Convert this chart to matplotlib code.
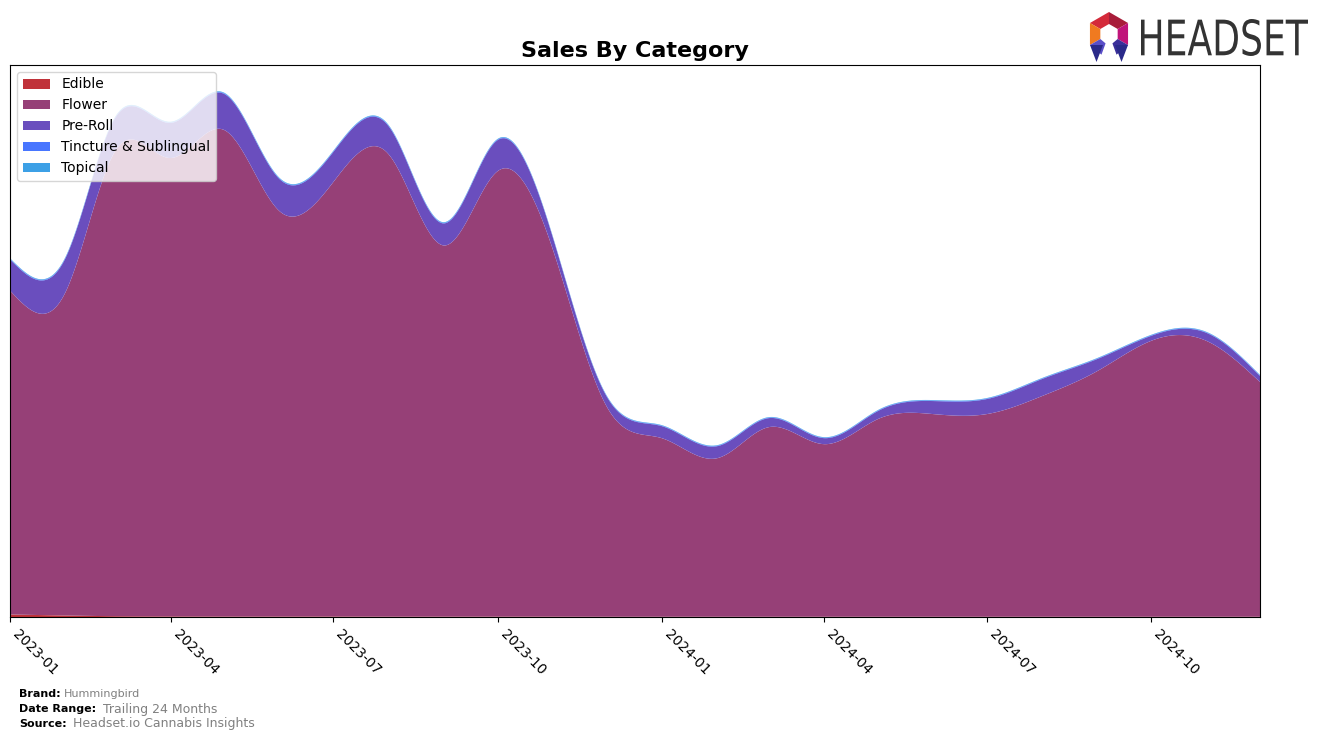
import numpy as np
import pandas as pd
import matplotlib
matplotlib.use("Agg")
import matplotlib.pyplot as plt
import matplotlib.dates as mdates
from matplotlib.patches import Polygon, PathPatch
from matplotlib.textpath import TextPath
from matplotlib.font_manager import FontProperties

# Monthly sales by category (arbitrary units)
months = pd.date_range("2023-01-01", "2024-12-01", freq="MS")
categories = ["Edible", "Flower", "Pre-Roll", "Tincture & Sublingual", "Topical"]
edible = [2.5, 1.5, 0.8, 0.6, 0.5, 0.5, 0.5, 0.4, 0.4, 0.4, 0.4, 0.3,
          0.3, 0.3, 0.3, 0.3, 0.3, 0.3, 0.3, 0.3, 0.3, 0.3, 0.3, 0.3]
flower = [323, 322, 464, 457, 485, 404, 433, 461, 370, 444, 366, 210,
          178, 158, 189, 172, 197, 202, 202, 220, 245, 275, 275, 234]
pre_roll = [31, 34, 33, 35, 36, 32, 30, 28, 22, 31, 12, 10,
            12, 12, 9, 6, 8, 13, 15, 17, 12, 5, 8, 6]
tincture = [0.6, 0.6, 0.6, 0.6, 0.6, 0.6, 0.6, 0.6, 0.6, 0.6, 0.5, 0.5,
            0.5, 0.5, 0.5, 0.5, 0.5, 0.5, 0.5, 0.5, 0.5, 0.5, 0.5, 0.5]
topical = [0.6, 0.6, 0.6, 0.6, 0.6, 0.6, 0.6, 0.6, 0.6, 0.6, 0.5, 0.5,
           0.5, 0.5, 0.5, 0.5, 0.5, 0.5, 0.5, 0.5, 0.5, 0.5, 0.5, 0.5]
colors = ["#c0323a", "#964077", "#6a4ebe", "#4876ff", "#3ca0e6"]


def natural_spline(x, y, xs):
    # plain natural cubic spline, just for the smooth look of the areas
    x = np.asarray(x, float)
    y = np.asarray(y, float)
    n = len(x)
    h = np.diff(x)
    A = np.zeros((n, n))
    b = np.zeros(n)
    A[0, 0] = A[-1, -1] = 1
    for i in range(1, n - 1):
        A[i, i - 1] = h[i - 1]
        A[i, i] = 2 * (h[i - 1] + h[i])
        A[i, i + 1] = h[i]
        b[i] = 3 * ((y[i + 1] - y[i]) / h[i] - (y[i] - y[i - 1]) / h[i - 1])
    c = np.linalg.solve(A, b)
    a = y[:-1]
    bb = (y[1:] - y[:-1]) / h - h * (2 * c[:-1] + c[1:]) / 3
    d = (c[1:] - c[:-1]) / (3 * h)
    idx = np.clip(np.searchsorted(x, xs) - 1, 0, n - 2)
    t = xs - x[idx]
    return a[idx] + bb[idx] * t + c[idx] * t ** 2 + d[idx] * t ** 3


days = (months - months[0]).days.values
xs = np.arange(0, days[-1] + 1)
dates = months[0] + pd.to_timedelta(xs, unit="D")
series = [edible, flower, pre_roll, tincture, topical]
smooth = [np.clip(natural_spline(days, s, xs), 0, None) for s in series]

fig = plt.figure(figsize=(13.24, 7.4), dpi=100)
ax = fig.add_axes([10 / 1324, 123 / 740, 1250 / 1324, 552 / 740])
ax.stackplot(dates, *smooth, labels=categories, colors=colors)

ax.set_xlim(months[0], months[-1])
total = np.sum(smooth, axis=0)
ax.set_ylim(0, total.max() * 1.05)
ax.set_yticks([])
ax.xaxis.set_major_locator(mdates.MonthLocator(bymonth=[1, 4, 7, 10]))
ax.xaxis.set_major_formatter(mdates.DateFormatter("%Y-%m"))
for lbl in ax.get_xticklabels():
    lbl.set_rotation(-45)
    lbl.set_ha("left")
    lbl.set_fontsize(10)
ax.set_title("Sales By Category", fontsize=16, fontweight="bold", pad=6)
ax.legend(loc="upper left", fontsize=10)

# footer
fig.text(19 / 1324, 1 - 694 / 740, "Brand:", fontsize=8, fontweight="bold", va="center")
fig.text(64 / 1324, 1 - 694 / 740, "Hummingbird", fontsize=8, color="gray", va="center")
fig.text(19 / 1324, 1 - 709 / 740, "Date Range:", fontsize=8, fontweight="bold", va="center")
fig.text(103 / 1324, 1 - 709 / 740, "Trailing 24 Months", fontsize=9, color="gray", va="center")
fig.text(19 / 1324, 1 - 724 / 740, "Source:", fontsize=8, fontweight="bold", va="center")
fig.text(73 / 1324, 1 - 724 / 740, "Headset.io Cannabis Insights", fontsize=9, color="gray", va="center")

# logo icon
lax = fig.add_axes([1084 / 1324, 1 - 62 / 740, 50 / 1324, 50 / 740])
lax.set_xlim(0, 1)
lax.set_ylim(0, 1)
lax.axis("off")
cx, cy, ro, ri = 0.5, 0.56, 0.44, 0.2
segs = [(90, 150, "#d42a3a"), (30, 90, "#a81d3a"), (-30, 30, "#c0147a"),
        (150, 210, "#f07a20"), (210, 250, "#5a4fc8"), (290, 330, "#3a2f9a")]
for a0, a1, col in segs:
    t = np.radians([a0, a1])
    pts = [(cx + ro * np.cos(t[0]), cy + ro * np.sin(t[0])),
           (cx + ro * np.cos(t[1]), cy + ro * np.sin(t[1])),
           (cx + ri * np.cos(t[1]), cy + ri * np.sin(t[1])),
           (cx + ri * np.cos(t[0]), cy + ri * np.sin(t[0]))]
    lax.add_patch(Polygon(pts, closed=True, color=col, lw=0))
lax.add_patch(Polygon([(0.12, 0.34), (0.38, 0.34), (0.25, 0.0)], color="#2a2a8a", lw=0))
lax.add_patch(Polygon([(0.62, 0.34), (0.88, 0.34), (0.75, 0.0)], color="#2a2a8a", lw=0))

# logo word, squeezed into its box
tp = TextPath((0, 0), "HEADSET", size=10, prop=FontProperties(family="DejaVu Sans"))
bb = tp.get_extents()
tax = fig.add_axes([1141 / 1324, 1 - 56 / 740, 167 / 1324, 37 / 740])
tax.add_patch(PathPatch(tp, color="#333333", lw=0))
tax.set_xlim(bb.x0, bb.x1)
tax.set_ylim(bb.y0, bb.y1)
tax.axis("off")

fig.savefig("out.png", dpi=100)
